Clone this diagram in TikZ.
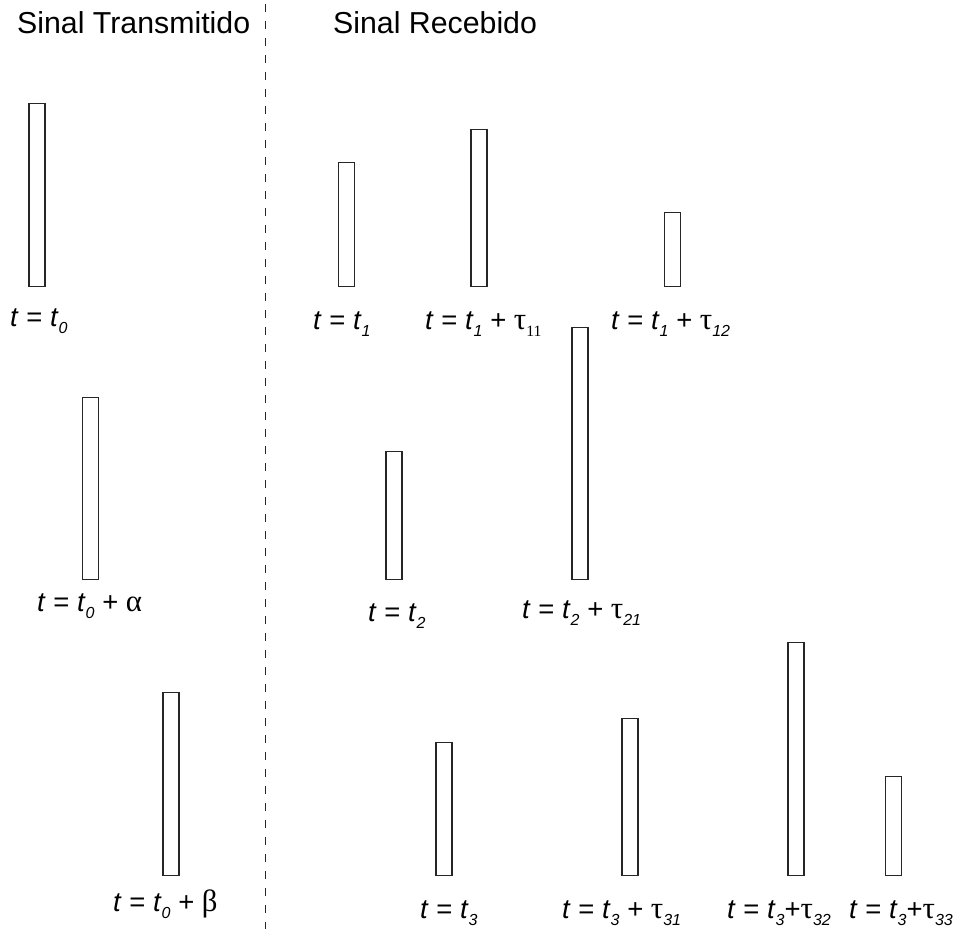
\documentclass[tikz,border=0pt]{standalone}
\usepackage{fontspec}
\setmainfont{Liberation Sans}
\newfontfamily\grk[Scale=1.12]{Liberation Serif}
% italic subscript in the label font, and a serif one for tau_11
\newcommand\isub[1]{\raisebox{-0.28em}{\fontsize{16}{16}\selectfont\itshape #1}}
\newcommand\rsub[1]{\raisebox{-0.28em}{\fontsize{14}{14}\selectfont\grk #1}}
\newcommand\tv{\textit{t}}
\begin{document}
\begin{tikzpicture}[x=1pt,y=-1pt,
  bar/.style={draw=black!85, line width=1.1pt, fill=white, inner sep=0pt,
    minimum width=16pt, anchor=south},
  lab/.style={anchor=base west, inner sep=0pt, font=\fontsize{27.5}{31}\selectfont},
  head/.style={anchor=base west, inner sep=0pt, font=\fontsize{30.3}{34}\selectfont},
  sep/.style={draw=black!85, line width=1pt, dash pattern=on 8pt off 9pt}]
\useasboundingbox (0,0) rectangle (955,929);

% column headings and the separator between them
\node[head] (hT) at (17,33) {Sinal Transmitido};
\node[head] (hR) at (333,33) {Sinal Recebido};
\coordinate (sepTop) at (265,4);
\coordinate (sepBot) at (265,929);
\draw[sep] (sepTop) -- (sepBot);

% transmitted pulses
\node[bar, minimum height=183pt] (r0) at (37,287) {};
\node[bar, minimum height=182pt] (ra) at (90.5,580) {};
\node[bar, minimum height=183pt] (rb) at (171,876) {};
\node[lab] (l0) at (10,326) {\tv{} = \tv\isub{0}};
\node[lab] (la) at (37,611) {\tv{} = \tv\isub{0} + {\grk α}};
\node[lab] (lb) at (113,911) {\tv{} = \tv\isub{0} + {\grk β}};

% received pulses, first echo group
\node[bar, minimum height=124pt] (r11) at (346.5,287) {};
\node[bar, minimum height=157pt] (r12) at (479,287) {};
\node[bar, minimum height=74pt] (r13) at (672.5,287) {};
\node[lab] (l11) at (313,329) {\tv{} = \tv\isub{1}};
\node[lab] (l12) at (425,329) {\tv{} = \tv\isub{1} + {\grk τ}\rsub{11}};
\node[lab] (l13) at (611,329) {\tv{} = \tv\isub{1} + {\grk τ}\isub{12}};

% second echo group
\node[bar, minimum height=128pt] (r21) at (394,580) {};
\node[bar, minimum height=252pt] (r22) at (580,580) {};
\node[lab] (l21) at (368,621) {\tv{} = \tv\isub{2}};
\node[lab] (l22) at (522,618) {\tv{} = \tv\isub{2} + {\grk τ}\isub{21}};

% third echo group
\node[bar, minimum height=133pt] (r31) at (444,876) {};
\node[bar, minimum height=157pt] (r32) at (630,876) {};
\node[bar, minimum height=233pt] (r33) at (796,876) {};
\node[bar, minimum height=99pt] (r34) at (893.5,876) {};
\node[lab] (l31) at (420,918) {\tv{} = \tv\isub{3}};
\node[lab] (l32) at (562,918) {\tv{} = \tv\isub{3} + {\grk τ}\isub{31}};
\node[lab] (l33) at (727,918) {\tv{} = \tv\isub{3}+{\grk τ}\isub{32}};
\node[lab] (l34) at (849,918) {\tv{} = \tv\isub{3}+{\grk τ}\isub{33}};
\end{tikzpicture}
\end{document}
